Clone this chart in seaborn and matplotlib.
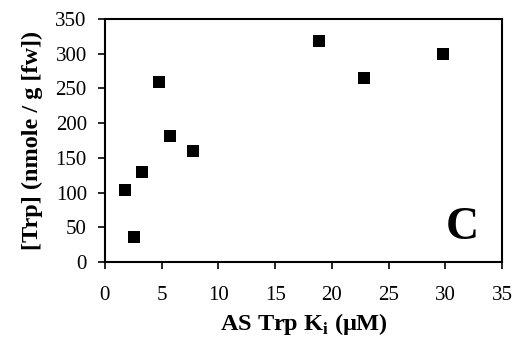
import seaborn as sns
import pandas as pd
import matplotlib.pyplot as plt

# AS Trp Ki (uM) vs [Trp] (nmole / g fw)
ki_values = [1.8, 2.6, 3.3, 4.8, 5.7, 7.8, 18.9, 22.8, 29.8]
trp_values = [104, 36, 129, 259, 182, 160, 319, 265, 300]
x_ticks = [0, 5, 10, 15, 20, 25, 30, 35]
y_ticks = [0, 50, 100, 150, 200, 250, 300, 350]

sns.set_style("white")
plt.rcParams['font.family'] = ['Liberation Serif', 'DejaVu Serif']
plt.rcParams['text.color'] = 'black'
plt.rcParams['axes.labelcolor'] = 'black'

df = pd.DataFrame({"ki": ki_values, "trp": trp_values})

fig = plt.figure(figsize=(5.14, 3.46), dpi=100)
ax = fig.add_axes([0.204, 0.243, 0.773, 0.702])

sns.scatterplot(data=df, x="ki", y="trp", marker="s", s=75, color="black",
                edgecolor="black", linewidth=0, ax=ax, legend=False)

ax.set_xlim(0, 35)
ax.set_ylim(0, 350)
ax.set_xticks(x_ticks)
ax.set_yticks(y_ticks)
ax.tick_params(axis="both", direction="out", length=5, width=1.2, color="black",
               labelsize=15, labelcolor="black")
ax.tick_params(axis="x", pad=12, bottom=True)
ax.tick_params(axis="y", pad=8, left=True)
for sp in ax.spines.values():
    sp.set_color("black")
    sp.set_linewidth(1.5)

ax.set_xlabel("AS Trp K$_\\mathregular{i}$ ($\\mathregular{\\mu}$M)", fontsize=17.5,
              fontweight="bold", labelpad=5, color="black")
ax.set_ylabel("[Trp] (nmole / g [fw])", fontsize=17.5, fontweight="bold", labelpad=9,
              color="black")

ax.text(0.9, 0.14, "C", transform=ax.transAxes, fontsize=33, fontweight="bold",
        ha="center", va="center", color="black")

fig.savefig("out.png", dpi=100)
